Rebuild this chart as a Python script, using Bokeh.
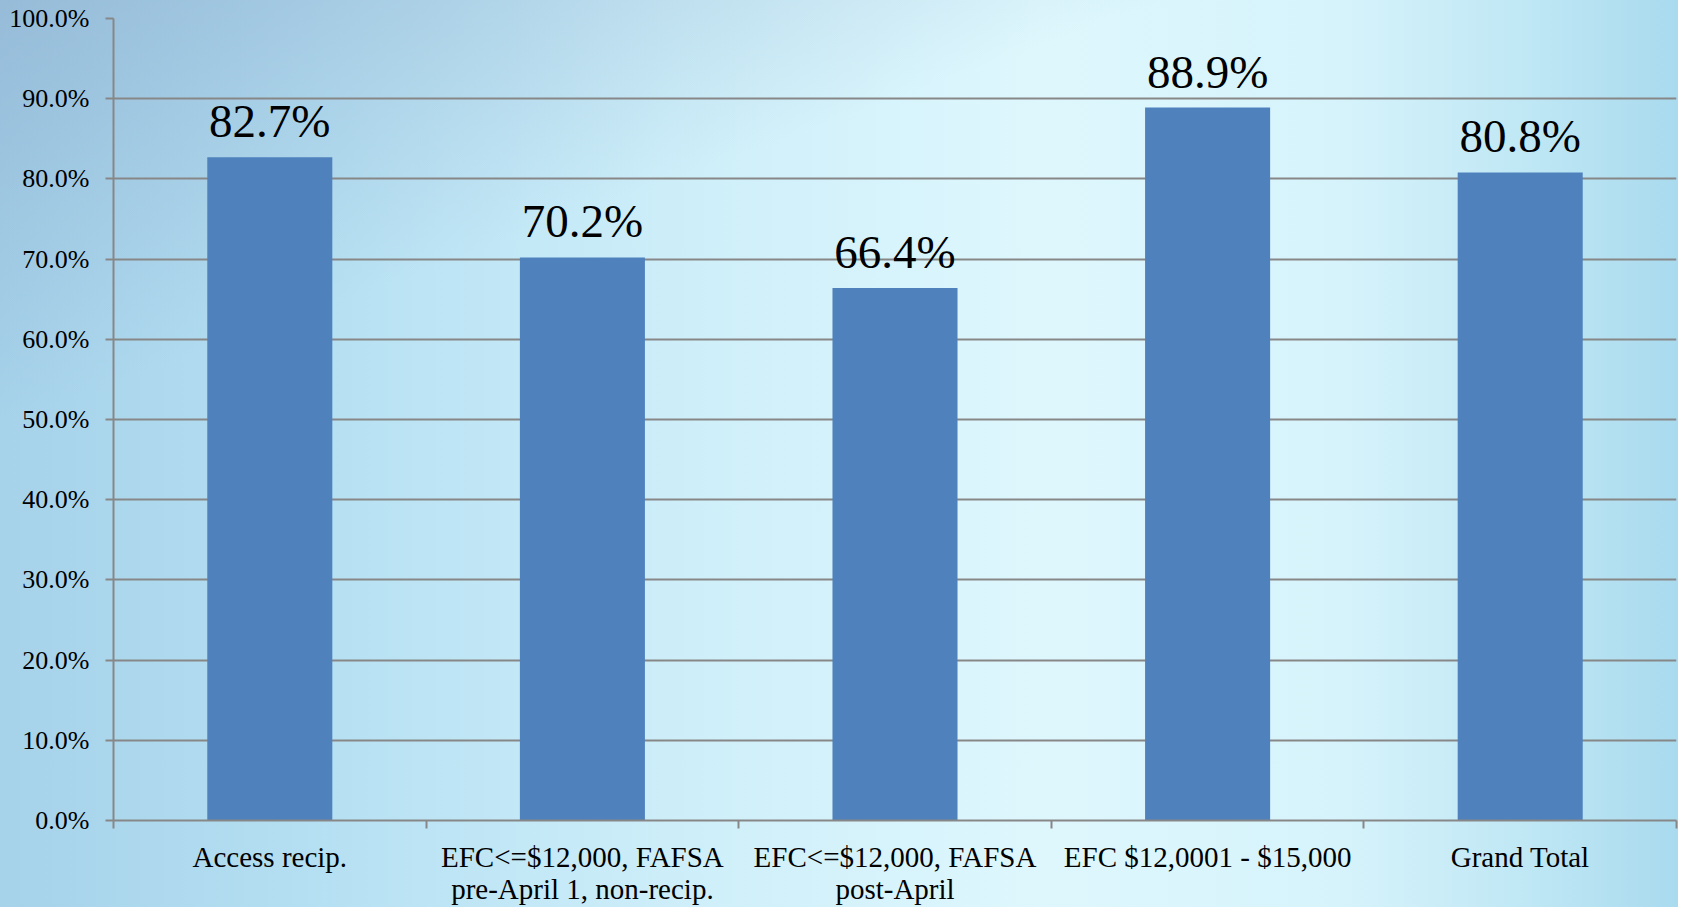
from bokeh.plotting import figure
from bokeh.models import FixedTicker, PrintfTickFormatter, Range1d, ColumnDataSource
from bokeh.core.properties import value
from bokeh.embed import file_html
from bokeh.resources import INLINE

categories = [
    "Access recip.",
    "EFC<=$12,000, FAFSA\npre-April 1, non-recip.",
    "EFC<=$12,000, FAFSA\npost-April",
    "EFC $12,0001 - $15,000",
    "Grand Total",
]
values = [82.7, 70.2, 66.4, 88.9, 80.8]
y_ticks = [0, 10, 20, 30, 40, 50, 60, 70, 80, 90, 100]

FONT = "Liberation Serif"
GRID = "#878787"
BAR = "#4f81bd"

centers = [i + 0.5 for i in range(len(categories))]
bounds = list(range(len(categories) + 1))

src = ColumnDataSource(dict(
    x=centers,
    top=values,
    label=[f"{v:.1f}%" for v in values],
))

p = figure(
    width=1678, height=907,
    output_backend="svg", toolbar_location=None,
    x_range=Range1d(0, len(categories)), y_range=Range1d(0, 100),
    min_border_left=113, min_border_right=2, min_border_top=18, min_border_bottom=60,
)
p.styles = {
    "background-image": (
        "linear-gradient(160deg, rgba(130,160,195,0.45) 0%, rgba(130,160,195,0) 28%),"
        "linear-gradient(90deg, #a6d2ea 0%, #b4dff2 18%, #cdeef9 40%, #def7fd 62%, #d6f3fb 80%, #bde6f4 92%, #a9daee 100%)"
    )
}
p.background_fill_alpha = 0
p.border_fill_alpha = 0
p.outline_line_color = None

p.vbar(x="x", top="top", width=0.4, bottom=0, source=src, fill_color=BAR, line_color=None)
p.text(x="x", y="top", text="label", source=src, text_align="center",
       text_baseline="alphabetic", y_offset=-36,
       text_font=value(FONT), text_font_size="47px", text_color="black")

# y axis
p.yaxis.ticker = FixedTicker(ticks=y_ticks)
p.yaxis.formatter = PrintfTickFormatter(format="%.1f%%")
p.yaxis.axis_line_color = GRID
p.yaxis.axis_line_width = 2
p.yaxis.major_tick_line_color = GRID
p.yaxis.major_tick_line_width = 2
p.yaxis.major_tick_in = 0
p.yaxis.major_tick_out = 8
p.yaxis.minor_tick_line_color = None
p.yaxis.major_label_standoff = 16
p.yaxis.major_label_text_font = FONT
p.yaxis.major_label_text_font_size = "26px"
p.yaxis.major_label_text_color = "black"

# x axis: labels at centers, ticks at boundaries
p.xaxis.ticker = FixedTicker(ticks=centers, minor_ticks=bounds)
p.xaxis.major_label_overrides = {c: lab for c, lab in zip(centers, categories)}
p.xaxis.axis_line_color = GRID
p.xaxis.axis_line_width = 2
p.xaxis.major_tick_line_color = None
p.xaxis.major_tick_in = 0
p.xaxis.major_tick_out = 0
p.xaxis.minor_tick_line_color = GRID
p.xaxis.minor_tick_line_width = 2
p.xaxis.minor_tick_in = 0
p.xaxis.minor_tick_out = 8
p.xaxis.major_label_standoff = 12
p.xaxis.major_label_text_font = FONT
p.xaxis.major_label_text_font_size = "29px"
p.xaxis.major_label_text_line_height = 1.0
p.xaxis.major_label_text_color = "black"

p.xgrid.grid_line_color = None
p.ygrid.ticker = FixedTicker(ticks=y_ticks)
p.ygrid.grid_line_color = GRID
p.ygrid.grid_line_width = 2

open("out.html", "w").write(file_html(p, INLINE))
